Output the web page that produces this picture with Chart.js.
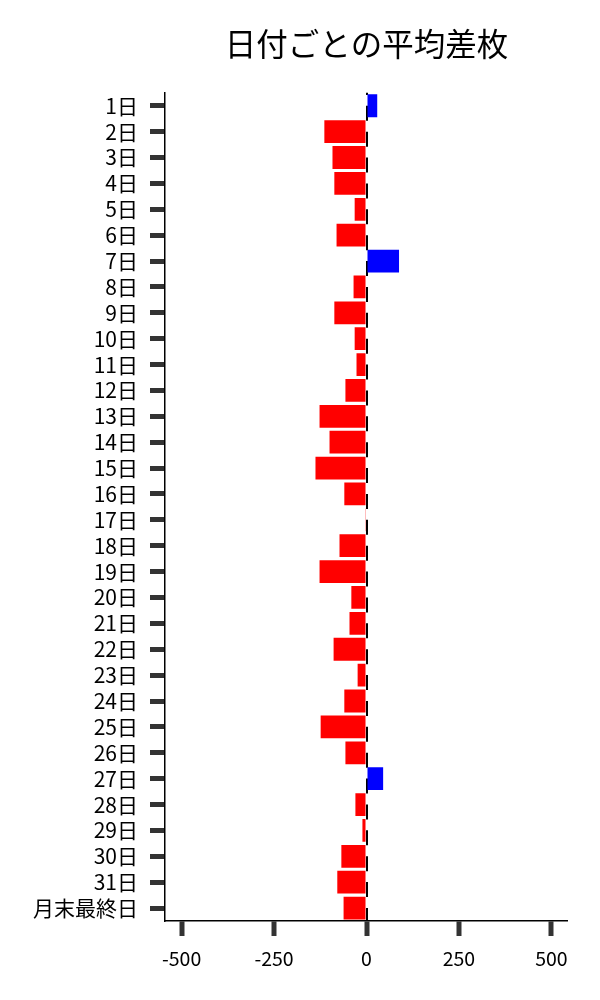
<!DOCTYPE html>
<html>
<head>
<meta charset="utf-8">
<script src="https://cdn.jsdelivr.net/npm/chart.js@4/dist/chart.umd.min.js"></script>
<style>
  body { margin: 0; background: #fff; }
  canvas { display: block; }
</style>
</head>
<body>
<canvas id="chart" width="600" height="1000"></canvas>
<script>
const days = [
  "1日", "2日", "3日", "4日", "5日", "6日", "7日", "8日", "9日", "10日",
  "11日", "12日", "13日", "14日", "15日", "16日", "17日", "18日", "19日", "20日",
  "21日", "22日", "23日", "24日", "25日", "26日", "27日", "28日", "29日", "30日",
  "31日", "月末最終日"
];
const avgDiff = [
  29, -114, -92, -87, -32, -81, 88, -35, -87, -32,
  -27, -57, -127, -100, -138, -60, -2, -73, -127, -41,
  -46, -89, -24, -60, -124, -57, 45, -30, -11, -68,
  -79, -62
];
const xTickValues = [-500, -250, 0, 250, 500];

const jpFont = "'Noto Sans CJK JP', 'Noto Sans', sans-serif";

new Chart(document.getElementById("chart"), {
  type: "bar",
  data: {
    labels: days,
    datasets: [{
      data: avgDiff,
      backgroundColor: avgDiff.map(v => v >= 0 ? "#0000ff" : "#ff0000"),
      categoryPercentage: 1,
      barPercentage: 0.88,
      borderWidth: 0
    }]
  },
  options: {
    indexAxis: "y",
    responsive: false,
    animation: false,
    layout: { padding: { right: 32, bottom: 0 } },
    plugins: {
      legend: { display: false },
      tooltip: { enabled: false },
      title: {
        display: true,
        text: "日付ごとの平均差枚",
        fullSize: false,
        color: "#000",
        font: { family: jpFont, size: 31.5, weight: "normal", lineHeight: 1.2 },
        padding: { top: 25, bottom: 30 }
      }
    },
    scales: {
      x: {
        min: -545,
        max: 545,
        z: 1,
        afterBuildTicks: scale => {
          scale.ticks = xTickValues.map(v => ({ value: v }));
        },
        afterFit: scale => { scale.height = 79; },
        grid: {
          drawOnChartArea: true,
          color: ctx => (ctx.tick && ctx.tick.value === 0) ? "#000" : "rgba(0,0,0,0)",
          lineWidth: ctx => (ctx.tick && ctx.tick.value === 0) ? 2 : 0,
          tickColor: "#333",
          tickWidth: 5,
          tickLength: 15
        },
        border: { display: true, color: "#000", width: 1.5, dash: [15, 10.875], dashOffset: 12.875 },
        ticks: {
          color: "#000",
          padding: 11,
          font: { family: jpFont, size: 19.5 }
        }
      },
      y: {
        afterFit: scale => { scale.width = 165; },
        grid: {
          offset: false,
          drawOnChartArea: false,
          tickColor: "#333",
          tickWidth: 5,
          tickLength: 15
        },
        border: { display: true, color: "#000", width: 1.5 },
        ticks: {
          color: "#000",
          padding: 12,
          autoSkip: false,
          font: { family: jpFont, size: 21 }
        }
      }
    }
  }
});
</script>
</body>
</html>
